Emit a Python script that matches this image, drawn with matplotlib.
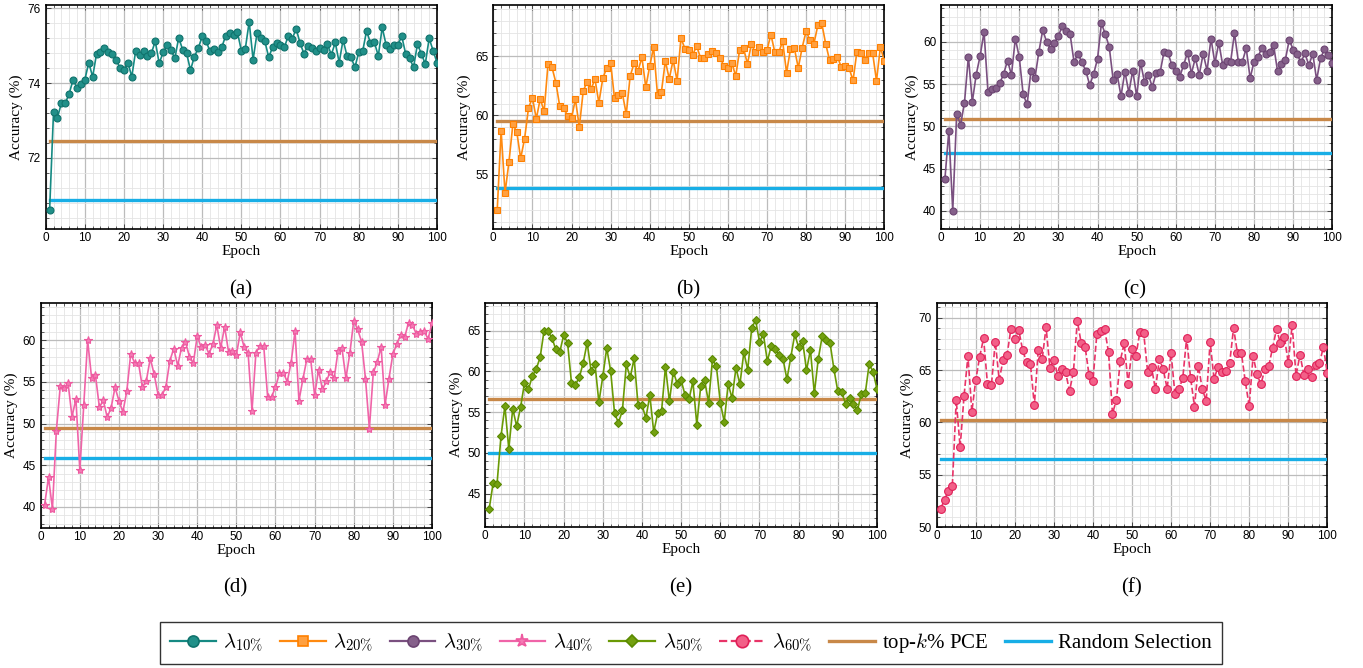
import matplotlib
matplotlib.use("Agg")
import matplotlib.pyplot as plt
from matplotlib.ticker import MultipleLocator
from matplotlib.lines import Line2D

plt.rcParams['font.family'] = 'Liberation Serif'
plt.rcParams['mathtext.fontset'] = 'cm'

epochs = list(range(1, 101))

acc_10 = [70.61, 73.23, 73.08, 73.46, 73.46, 73.72, 74.09, 73.88, 73.97, 74.09,
          74.55, 74.17, 74.79, 74.84, 74.94, 74.84, 74.79, 74.63, 74.40, 74.35,
          74.55, 74.17, 74.87, 74.75, 74.87, 74.73, 74.80, 75.12, 74.53, 74.82,
          75.02, 74.89, 74.66, 75.22, 74.89, 74.80, 74.35, 74.71, 74.94, 75.25,
          75.12, 74.85, 74.91, 74.82, 74.96, 75.27, 75.33, 75.29, 75.36, 74.87,
          74.91, 75.64, 74.63, 75.33, 75.22, 75.12, 74.69, 74.97, 75.07, 75.02,
          74.96, 75.27, 75.18, 75.46, 75.07, 74.79, 75.00, 74.93, 74.85, 74.94,
          74.89, 75.04, 74.76, 75.09, 74.55, 75.16, 74.73, 74.71, 74.42, 74.82,
          74.85, 75.40, 75.07, 75.09, 74.73, 75.49, 75.02, 74.91, 75.03, 75.03,
          75.25, 74.78, 74.67, 74.42, 75.04, 74.79, 74.51, 75.20, 74.87, 74.55]

acc_20 = [51.97, 58.70, 53.44, 56.06, 59.24, 58.62, 56.37, 58.03, 60.62, 61.52,
          59.72, 61.41, 60.34, 64.39, 64.08, 62.79, 60.76, 60.65, 59.97, 59.77,
          61.38, 59.01, 62.08, 62.85, 62.23, 63.07, 61.07, 63.13, 64.03, 64.48,
          61.44, 61.75, 61.89, 60.11, 63.32, 64.42, 63.75, 64.93, 62.39, 64.17,
          65.77, 61.72, 62.00, 64.62, 63.10, 64.70, 62.93, 66.54, 65.66, 65.58,
          65.13, 65.89, 64.87, 64.87, 65.21, 65.46, 65.32, 64.85, 64.20, 64.00,
          64.48, 63.32, 65.55, 65.69, 64.37, 66.03, 65.35, 65.77, 65.35, 65.55,
          66.85, 65.35, 65.35, 66.28, 63.61, 65.61, 65.69, 64.03, 65.75, 67.13,
          66.37, 66.08, 67.63, 67.80, 66.08, 64.68, 64.79, 64.99, 64.08, 64.17,
          64.00, 62.96, 65.41, 65.32, 64.68, 65.32, 65.32, 62.93, 65.80, 64.62]

acc_30 = [43.78, 49.49, 40.04, 51.46, 50.20, 52.83, 58.27, 52.91, 56.14, 58.35,
          61.18, 54.09, 54.40, 54.60, 55.10, 56.20, 57.80, 56.10, 60.40, 58.20,
          53.80, 52.60, 56.60, 55.70, 58.80, 61.40, 60.00, 59.20, 59.90, 60.70,
          61.90, 61.30, 60.90, 57.60, 58.60, 57.60, 56.60, 54.90, 56.20, 58.00,
          62.20, 60.90, 59.40, 55.50, 56.20, 53.60, 56.50, 54.00, 56.60, 53.58,
          57.56, 55.28, 56.14, 54.65, 56.38, 56.42, 58.86, 58.74, 57.24, 56.54,
          55.87, 57.28, 58.74, 56.26, 58.11, 56.10, 58.62, 56.61, 60.39, 57.48,
          59.92, 57.24, 57.76, 57.60, 61.06, 57.64, 57.64, 59.25, 55.71, 57.68,
          58.19, 59.33, 58.58, 58.86, 59.61, 56.57, 57.36, 57.91, 60.24, 59.09,
          58.54, 57.60, 58.66, 57.24, 58.62, 55.51, 58.07, 59.13, 58.46, 57.56]

acc_40 = [40.28, 43.55, 39.80, 49.14, 54.45, 54.29, 54.81, 50.82, 52.93, 44.43,
          52.18, 59.96, 55.49, 55.77, 51.94, 52.77, 50.74, 51.90, 54.33, 52.73,
          51.38, 53.85, 58.32, 57.29, 57.21, 54.33, 55.13, 57.80, 55.89, 53.45,
          53.37, 54.41, 57.52, 58.96, 56.93, 59.08, 59.80, 58.00, 57.21, 60.48,
          59.12, 59.44, 58.36, 59.48, 61.80, 59.04, 61.60, 58.60, 58.70, 58.20,
          60.92, 59.12, 58.48, 51.54, 58.48, 59.28, 59.28, 53.13, 53.21, 54.33,
          56.01, 56.09, 55.01, 57.29, 61.08, 52.73, 55.29, 57.68, 57.68, 53.37,
          56.41, 54.09, 55.05, 56.21, 55.41, 58.72, 59.00, 55.41, 58.40, 62.32,
          61.28, 59.80, 55.37, 49.38, 56.13, 57.33, 59.20, 52.22, 55.37, 58.32,
          59.52, 60.64, 60.32, 62.08, 61.80, 60.72, 60.96, 61.04, 60.12, 62.00]

acc_50 = [43.15, 46.30, 46.22, 52.02, 55.75, 50.47, 55.42, 53.29, 55.58, 58.57,
          57.79, 59.39, 60.29, 61.72, 64.99, 64.91, 64.13, 62.70, 62.37, 64.42,
          63.52, 58.61, 58.36, 59.26, 61.06, 63.52, 60.08, 60.90, 56.20, 59.39,
          62.86, 60.08, 54.85, 53.70, 55.21, 60.86, 59.26, 61.60, 55.83, 55.83,
          54.27, 57.06, 52.56, 54.85, 55.13, 60.57, 56.32, 59.96, 58.49, 58.90,
          57.10, 56.56, 58.77, 53.46, 58.20, 58.90, 56.16, 61.47, 60.61, 56.16,
          53.82, 58.45, 56.69, 60.45, 58.40, 62.33, 60.20, 65.28, 66.30, 63.64,
          64.54, 61.27, 63.11, 62.70, 62.00, 61.55, 59.02, 61.76, 64.54, 62.94,
          63.76, 60.12, 62.62, 57.30, 61.51, 64.29, 63.84, 63.52, 60.29, 57.55,
          57.42, 55.99, 56.77, 55.99, 55.21, 57.26, 57.30, 60.90, 59.96, 57.83]

acc_60 = [51.75, 52.58, 53.47, 53.92, 62.13, 57.61, 62.52, 66.34, 61.02, 64.04,
          66.27, 68.03, 63.66, 63.54, 67.71, 64.04, 65.96, 66.40, 68.95, 67.96,
          68.82, 66.91, 65.76, 65.54, 61.62, 66.88, 66.02, 69.08, 65.19, 65.96,
          64.46, 65.06, 64.78, 62.99, 64.81, 69.71, 67.55, 67.20, 64.52, 63.98,
          68.44, 68.73, 68.89, 66.69, 60.83, 62.13, 65.89, 67.55, 63.69, 67.01,
          66.34, 68.60, 68.50, 64.84, 65.25, 63.15, 66.05, 65.06, 63.22, 66.62,
          62.68, 63.15, 64.24, 68.09, 64.24, 61.50, 65.41, 63.15, 62.07, 67.68,
          64.17, 65.25, 64.78, 64.87, 65.64, 69.01, 66.62, 66.62, 63.92, 61.56,
          66.34, 64.59, 63.63, 65.06, 65.35, 67.13, 68.92, 67.55, 68.18, 65.70,
          69.30, 64.46, 66.46, 64.55, 65.06, 64.36, 65.51, 65.64, 67.20, 64.68]

# baselines per panel (a)..(f)
pce_topk = [72.46, 59.49, 50.94, 49.46, 56.56, 60.22]
random_sel = [70.88, 53.86, 46.81, 45.91, 50.00, 56.53]

series = [acc_10, acc_20, acc_30, acc_40, acc_50, acc_60]
series_names = [r'$\lambda_{10\%}$', r'$\lambda_{20\%}$', r'$\lambda_{30\%}$',
                r'$\lambda_{40\%}$', r'$\lambda_{50\%}$', r'$\lambda_{60\%}$']
captions = ['(a)', '(b)', '(c)', '(d)', '(e)', '(f)']

# line colour, marker face, marker edge, marker, size, linestyle
styles = [
    ('#168a83', '#219089', '#10736d', 'o', 5.0, '-'),
    ('#ff8a10', '#ffa040', '#ff8000', 's', 4.6, '-'),
    ('#7a5080', '#85608a', '#6c4472', 'o', 5.0, '-'),
    ('#f064a8', '#f47ab4', '#ee5aa0', '*', 6.0, '-'),
    ('#6a9a05', '#73a010', '#5a8a00', 'D', 3.6, '-'),
    ('#e83468', '#f26088', '#e02058', 'o', 5.6, '--'),
]

ylims = [(70.1, 76.09), (50.39, 69.35), (37.87, 64.37),
         (37.52, 64.47), (40.94, 68.43), (50.0, 71.43)]
major_steps = [2, 5, 5, 5, 5, 5]
minor_steps = [0.4, 1, 1, 1, 1, 1]

pce_color = '#c88848'
rand_color = '#18aee6'

W, H = 1363, 668
# panel boxes in pixels: left, top, right, bottom
boxes = [(45.7, 5, 437, 229), (493.3, 5, 884.3, 229), (941, 5, 1332.3, 229),
         (40.7, 302.7, 432, 527.7), (485.3, 302.7, 877, 526.7), (936.7, 302.7, 1327.3, 527)]
caption_pos = [(241, 290), (688, 290), (1135, 290), (235, 588), (681, 588), (1131, 588)]

fig = plt.figure(figsize=(W / 100, H / 100), dpi=100)

for i in range(6):
    l, t, r, b = boxes[i]
    ax = fig.add_axes([l / W, 1 - b / H, (r - l) / W, (b - t) / H])
    lc, mf, me, mk, ms, ls = styles[i]
    ax.plot(epochs, series[i], color=lc, lw=1.2, ls=ls, marker=mk, ms=ms,
            markerfacecolor=mf, markeredgecolor=me, markeredgewidth=0.8, zorder=4)
    ax.plot([epochs[0], epochs[-1]], [pce_topk[i]] * 2, color=pce_color, lw=2.4, zorder=3)
    ax.plot([epochs[0], epochs[-1]], [random_sel[i]] * 2, color=rand_color, lw=2.4, zorder=3)

    ax.set_xlim(0, 100)
    ax.set_ylim(*ylims[i])
    ax.xaxis.set_major_locator(MultipleLocator(10))
    ax.xaxis.set_minor_locator(MultipleLocator(2))
    ax.yaxis.set_major_locator(MultipleLocator(major_steps[i]))
    ax.yaxis.set_minor_locator(MultipleLocator(minor_steps[i]))
    ax.grid(which='major', color='#bcbcbc', lw=0.9)
    ax.grid(which='minor', color='#e4e4e4', lw=0.6)
    ax.set_axisbelow(True)
    ax.tick_params(which='both', direction='in', top=True, right=True,
                   labelsize=8.5, labelfontfamily='Liberation Sans', color='#444444')
    ax.tick_params(which='major', length=3.5, width=0.7)
    ax.tick_params(which='minor', length=2, width=0.6)
    ax.tick_params(axis='x', pad=2.5)
    for sp in ax.spines.values():
        sp.set_linewidth(1.2)

    ax.set_xlabel('Epoch', fontsize=11)
    ax.set_ylabel('Accuracy (%)', fontsize=11)
    ax.xaxis.set_label_coords(0.5, -0.072)
    ax.yaxis.set_label_coords(-0.057, 0.5)

    cx, cy = caption_pos[i]
    fig.text(cx / W, 1 - cy / H, captions[i], fontsize=15, ha='center', va='center')

handles = []
for i in range(6):
    lc, mf, me, mk, ms, ls = styles[i]
    handles.append(Line2D([], [], color=lc, lw=1.6, ls=ls, marker=mk, ms=ms * 1.6,
                          markerfacecolor=mf, markeredgecolor=me, markeredgewidth=1.2))
handles.append(Line2D([], [], color=pce_color, lw=2.4))
handles.append(Line2D([], [], color=rand_color, lw=2.4))
labels = series_names + [r'top-$k$% PCE', 'Random Selection']

fig.legend(handles, labels, loc='center', bbox_to_anchor=(691 / W, 1 - 643 / H),
           ncol=8, fontsize=15, frameon=True, fancybox=False, edgecolor='black',
           handlelength=2.2, handletextpad=0.35, columnspacing=0.8, borderpad=0.45,
           numpoints=1)

fig.savefig('out.png', dpi=100)
